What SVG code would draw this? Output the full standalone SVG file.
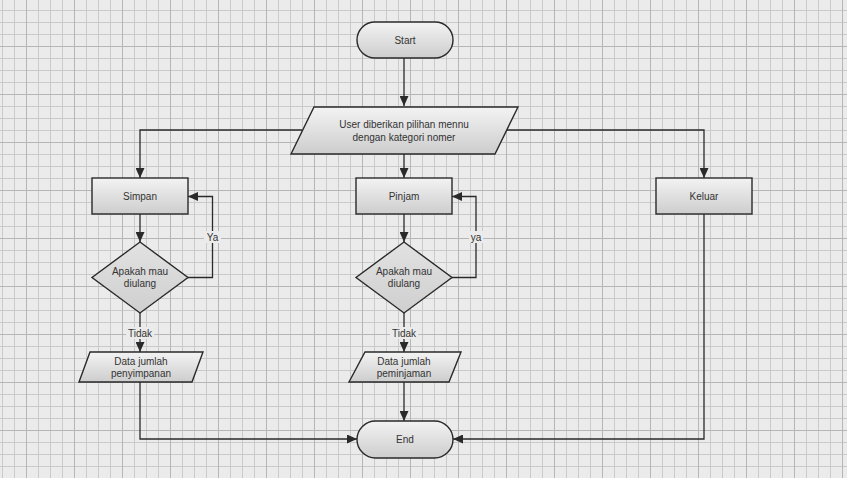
<svg xmlns="http://www.w3.org/2000/svg" width="847" height="478" viewBox="0 0 847 478">
<defs>
<pattern id="minor" width="12" height="12" x="2" y="10" patternUnits="userSpaceOnUse">
<rect x="0" y="0" width="1" height="12" fill="#cacaca"/>
<rect x="0" y="0" width="12" height="1" fill="#cacaca"/>
</pattern>
<pattern id="major" width="48" height="48" x="26" y="46" patternUnits="userSpaceOnUse">
<rect x="0" y="0" width="1" height="48" fill="#b6b6b6"/>
<rect x="0" y="0" width="48" height="1" fill="#b6b6b6"/>
</pattern>
<linearGradient id="fill" x1="0" y1="0" x2="0" y2="1">
<stop offset="0" stop-color="#f3f3f3"/>
<stop offset="1" stop-color="#cdcdcd"/>
</linearGradient>
<linearGradient id="dfill" x1="0" y1="0" x2="0" y2="1">
<stop offset="0" stop-color="#e2e2e2"/>
<stop offset="1" stop-color="#cfcfcf"/>
</linearGradient>
<marker id="arr" markerWidth="10" markerHeight="9" refX="10" refY="4.5" orient="auto" markerUnits="userSpaceOnUse">
<path d="M0,0 L10,4.5 L0,9 z" fill="#2a2a2a"/>
</marker>
</defs>
<style>
.shape{fill:url(#fill);stroke:#2a2a2a;stroke-width:1.4}
.dia{fill:url(#dfill);stroke:#2a2a2a;stroke-width:1.4}
.conn{fill:none;stroke:#2a2a2a;stroke-width:1.3;marker-end:url(#arr)}
.line{fill:none;stroke:#2a2a2a;stroke-width:1.3}
text{font-family:"Liberation Sans",Arial,sans-serif;font-size:10px;fill:#333;text-anchor:middle;dominant-baseline:central}
.lblbg{fill:#ebebeb}
</style>
<rect width="847" height="478" fill="#ebebeb"/>
<rect width="847" height="478" fill="url(#minor)"/>
<rect width="847" height="478" fill="url(#major)"/>

<g id="connectors">
<path class="conn" d="M404,58 V106"/>
<path class="conn" d="M302,130 H140 V178"/>
<path class="conn" d="M507,130 H704 V178"/>
<path class="conn" d="M404,154 V178"/>
<path class="conn" d="M140,214 V242"/>
<path class="conn" d="M188,277.5 H212.5 V196.5 H188"/>
<path class="conn" d="M140,313 V352"/>
<path class="conn" d="M140,382 V439 H357"/>
<path class="conn" d="M404,214 V242"/>
<path class="conn" d="M452,277.5 H476 V196.5 H452"/>
<path class="conn" d="M404,313 V352"/>
<path class="conn" d="M404,382 V421"/>
<path class="conn" d="M704,214 V439 H453"/>
<rect class="lblbg" x="204" y="231" width="17" height="12"/>
<text x="212.5" y="237">Ya</text>
<rect class="lblbg" x="469" y="231" width="14" height="12"/>
<text x="476" y="237">ya</text>
<rect class="lblbg" x="126" y="327" width="28" height="12"/>
<text x="140" y="333">Tidak</text>
<rect class="lblbg" x="390" y="327" width="28" height="12"/>
<text x="404" y="333">Tidak</text>
</g>

<g id="start">
<rect class="shape" x="357" y="22" width="96" height="36" rx="18" ry="18"/>
<text x="405" y="40">Start</text>
</g>
<g id="menu">
<polygon class="shape" points="314,107 518,107 495,154 291,154"/>
<text x="404" y="124">User diberikan pilihan mennu</text>
<text x="404" y="137">dengan kategori nomer</text>
</g>
<g id="simpan">
<rect class="shape" x="92" y="178" width="96" height="36"/>
<text x="140" y="196">Simpan</text>
</g>
<g id="pinjam">
<rect class="shape" x="356" y="178" width="96" height="36"/>
<text x="404" y="196">Pinjam</text>
</g>
<g id="keluar">
<rect class="shape" x="656" y="178" width="96" height="36"/>
<text x="704" y="196">Keluar</text>
</g>
<g id="ulang-simpan">
<polygon class="dia" points="140,242 188,277.5 140,313 92,277.5"/>
<text x="140" y="271">Apakah mau</text>
<text x="140" y="283.5">diulang</text>
</g>
<g id="ulang-pinjam">
<polygon class="dia" points="404,242 452,277.5 404,313 356,277.5"/>
<text x="404" y="271">Apakah mau</text>
<text x="404" y="283.5">diulang</text>
</g>
<g id="data-simpan">
<polygon class="shape" points="90,352 203,352 192,382 79,382"/>
<text x="141" y="361">Data jumlah</text>
<text x="141" y="373.5">penyimpanan</text>
</g>
<g id="data-pinjam">
<polygon class="shape" points="365,352 461,352 449,382 349,382"/>
<text x="404" y="361">Data jumlah</text>
<text x="404" y="373.5">peminjaman</text>
</g>
<g id="end">
<rect class="shape" x="357" y="421" width="96" height="37" rx="18.5" ry="18.5"/>
<text x="405" y="439.5">End</text>
</g>
</svg>
